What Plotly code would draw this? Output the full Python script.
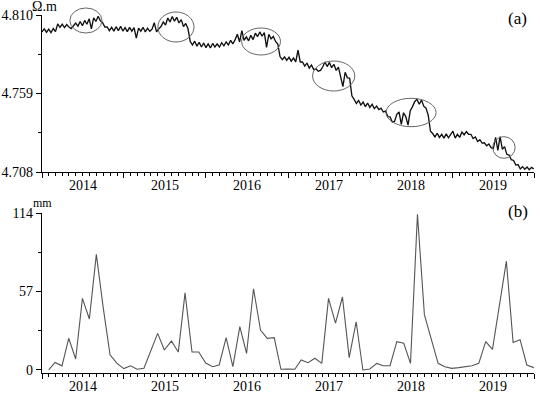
import pandas as pd
import plotly.graph_objects as go
from plotly.subplots import make_subplots

# ---- (a) apparent resistivity, one reading every 10 days from 2014-01-01 ----
res_start = "2014-01-01"
resistivity = [
    4.7990, 4.8010, 4.7988, 4.8008, 4.7985, 4.8012, 4.7992,
    4.8042, 4.8020, 4.8040, 4.8018, 4.8038, 4.8022,
    4.8012, 4.8030,
    4.8048, 4.8028, 4.8058, 4.8030, 4.8065, 4.8040, 4.8075, 4.8010, 4.8082, 4.8058, 4.8092,
    4.8062, 4.8050, 4.8022,
    4.8022, 4.7998, 4.8020, 4.7995, 4.8024, 4.7998, 4.8026, 4.7996, 4.8018, 4.7992,
    4.8020, 4.7995, 4.8018, 4.7950, 4.8015, 4.7995, 4.8020, 4.7990, 4.8014, 4.7994,
    4.8008, 4.8050, 4.7990, 4.8010,
    4.8025, 4.8055, 4.8035, 4.8080, 4.8055, 4.8090, 4.8060, 4.8085, 4.8048, 4.8070, 4.8025, 4.8045, 4.8012,
    4.7928, 4.7905, 4.7930, 4.7898, 4.7922, 4.7892, 4.7918, 4.7888, 4.7912, 4.7886, 4.7915, 4.7892,
    4.7912, 4.7892, 4.7920, 4.7900, 4.7925, 4.7905, 4.7935, 4.7912, 4.7940, 4.7975, 4.7925,
    4.7998, 4.7935, 4.7958, 4.7932, 4.7968, 4.7940, 4.7982, 4.7960, 4.7990, 4.7962, 4.7985,
    4.7890, 4.7975, 4.7945, 4.7960, 4.7928, 4.7912,
    4.7830, 4.7810,
    4.7828, 4.7805, 4.7825, 4.7800, 4.7820, 4.7795, 4.7872, 4.7795,
    4.7795, 4.7768, 4.7788, 4.7755, 4.7775, 4.7745, 4.7750, 4.7735, 4.7740,
    4.7762, 4.7795, 4.7765, 4.7792, 4.7758, 4.7780, 4.7740, 4.7762, 4.7705, 4.7635, 4.7728, 4.7692, 4.7690,
    4.7575,
    4.7552, 4.7525, 4.7545, 4.7515, 4.7535, 4.7505, 4.7528, 4.7500, 4.7520,
    4.7492, 4.7508, 4.7485, 4.7495, 4.7470, 4.7475, 4.7440, 4.7438, 4.7405, 4.7408,
    4.7455, 4.7470, 4.7390, 4.7465, 4.7440, 4.7385, 4.7478, 4.7505,
    4.7538, 4.7552, 4.7520, 4.7548, 4.7508, 4.7495, 4.7450,
    4.7345,
    4.7330, 4.7308, 4.7332, 4.7305, 4.7325, 4.7300, 4.7328, 4.7302, 4.7322, 4.7345, 4.7300, 4.7325, 4.7305,
    4.7340, 4.7322, 4.7342, 4.7325,
    4.7325, 4.7298, 4.7308, 4.7278, 4.7290, 4.7268, 4.7270, 4.7250, 4.7262, 4.7238,
    4.7232, 4.7305, 4.7220, 4.7310, 4.7228, 4.7245,
    4.7195, 4.7190, 4.7160, 4.7155, 4.7125, 4.7128,
    4.7100, 4.7115, 4.7098, 4.7112, 4.7095, 4.7110, 4.7100,
]
res_dates = pd.date_range(res_start, periods=len(resistivity), freq="10D")

# ---- (b) monthly precipitation (mm), Jan 2014 .. Dec 2019 ----
rain_mm = [
    0, 5.5, 3, 23, 8, 52, 37, 84, 46, 11, 5, 1,
    3, 0.5, 1.2, 13, 26.6, 14.5, 21, 13, 56, 13, 13, 5,
    2.4, 3.6, 23.5, 2.4, 31.5, 12, 59, 29, 23, 23.5, 0.5, 0.7,
    0.5, 7.3, 5.3, 8.5, 4.8, 52, 34, 53, 9, 35, 0, 0.7,
    4.8, 3.1, 3.1, 20.6, 19.4, 4.8, 113, 40, 22, 4.8, 2.4, 1.2,
    1.7, 2.4, 3.1, 4.8, 20.6, 15, 48, 79, 20, 22, 3.6, 1.7,
]
rain_dates = pd.date_range("2014-02-01", periods=len(rain_mm), freq="MS") - pd.Timedelta(days=1)

res_ticks = [4.708, 4.759, 4.810]
res_minor = [4.7335, 4.7845]
rain_ticks = [0, 57, 114]
rain_minor = [28.5, 85.5]

# highlighted anomalies on panel (a): (start, end, paper y0, paper y1)
ellipse_spans = [
    ("2014-05-05", "2014-09-25", 0.9497, 1.0196),
    ("2015-06-01", "2015-11-09", 0.9246, 1.0084),
    ("2016-06-08", "2016-11-28", 0.8883, 0.9637),
    ("2017-04-20", "2017-10-25", 0.7877, 0.8715),
    ("2018-03-13", "2018-10-22", 0.6880, 0.7673),
    ("2019-07-01", "2019-10-09", 0.5997, 0.6601),
]

FONT = "Liberation Serif"
TICKSIZE = 14

fig = make_subplots(rows=2, cols=1, vertical_spacing=0.0)
fig.add_trace(go.Scatter(x=res_dates, y=resistivity, mode="lines",
                         line=dict(color="#111111", width=1.35), showlegend=False), row=1, col=1)
fig.add_trace(go.Scatter(x=rain_dates, y=rain_mm, mode="lines",
                         line=dict(color="#555555", width=1.1), showlegend=False), row=2, col=1)

xcommon = dict(
    type="date", range=["2014-01-01", "2020-01-01"],
    tick0="2014-01-01", dtick="M12", ticklabelmode="period", tickformat="%Y",
    ticks="outside", ticklen=5, tickwidth=1.2, tickcolor="black", ticklabelstandoff=-5,
    minor=dict(dtick="M1", ticks="outside", ticklen=3, tickwidth=1, tickcolor="black"),
    showline=True, linecolor="black", linewidth=1.3, showgrid=False, zeroline=False,
    tickfont=dict(family=FONT, size=TICKSIZE, color="black"), automargin=False,
)
fig.update_xaxes(**xcommon, row=1, col=1)
fig.update_xaxes(**xcommon, row=2, col=1)

ycommon = dict(
    ticks="outside", ticklen=5, tickwidth=1.2, tickcolor="black",
    showline=True, linecolor="black", linewidth=1.3, showgrid=False, zeroline=False,
    tickfont=dict(family=FONT, size=TICKSIZE, color="black"), automargin=False,
)
fig.update_yaxes(**ycommon, range=[4.708, 4.810], tickvals=res_ticks,
                 ticktext=[f"{v:.3f}" for v in res_ticks],
                 minor=dict(tickvals=res_minor, ticks="outside", ticklen=3, tickcolor="black"),
                 domain=[0.5614, 1.0], row=1, col=1)
fig.update_yaxes(**ycommon, range=[-2.2, 114], tickvals=rain_ticks,
                 ticktext=[str(v) for v in rain_ticks],
                 minor=dict(tickvals=rain_minor, ticks="outside", ticklen=3, tickcolor="black"),
                 domain=[0.0, 0.4469], row=2, col=1)

for x0, x1, y0, y1 in ellipse_spans:
    fig.add_shape(type="circle", xref="x", yref="paper", x0=x0, x1=x1, y0=y0, y1=y1,
                  line=dict(color="#666666", width=1))

def label(text, x, y, size):
    fig.add_annotation(text=text, x=x, y=y, xref="paper", yref="paper", showarrow=False,
                       xanchor="center", yanchor="middle",
                       font=dict(family=FONT, size=size, color="black"))

label("Ω.m", 0.006, 1.023, 14)
label("mm", 0.002, 0.475, 12)
label("(a)", 0.967, 0.9916, 17)
label("(b)", 0.967, 0.4525, 17)

fig.update_layout(
    width=540, height=394, margin=dict(l=42, r=6, t=15, b=21),
    plot_bgcolor="white", paper_bgcolor="white", showlegend=False,
)
fig.write_html(
    "out.html",
    config={"displayModeBar": False},
    post_script="document.body.style.margin='0';document.body.style.padding='0';"
                "document.body.style.overflow='hidden';",
)
